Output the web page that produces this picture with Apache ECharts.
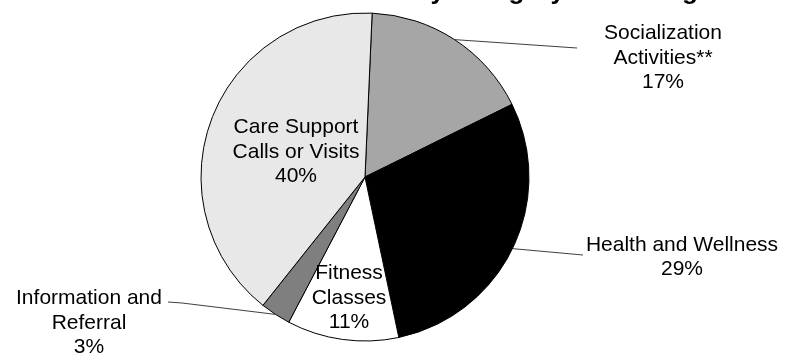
<!DOCTYPE html>
<html>
<head>
<meta charset="utf-8">
<script src="https://cdn.jsdelivr.net/npm/echarts@6/dist/echarts.min.js"></script>
<style>
  html, body { margin: 0; padding: 0; background: #fff; }
  #chart { width: 789px; height: 354px; }
</style>
</head>
<body>
<div id="chart"></div>
<script>
// ---- data ----
const titleText = 'Activity Category Percentage';
const categories = ['Socialization\nActivities**', 'Health and Wellness', 'Fitness\nClasses', 'Information and\nReferral', 'Care Support\nCalls or Visits'];
const values = [17, 29, 11, 3, 40];

// ---- styles ----
const sliceColors = ['#a6a6a6', '#000000', '#ffffff', '#7f7f7f', '#e8e8e8'];
const labelInside = [false, false, true, false, true];
// label centres and leader-line end points (text placement only)
const labelCenters = [[663, 58], [682, 257], [349, 298], [89, 323], [296, 152]];
const leaderEnds = [[[577, 48]], [[583, 255]], null, [[182, 303], [168, 302]], null];

const chart = echarts.init(document.getElementById('chart'), null, { renderer: 'canvas' });

const data = categories.map((name, i) => ({
  name: name,
  value: values[i],
  itemStyle: { color: sliceColors[i] },
  label: { position: labelInside[i] ? 'inside' : 'outside' },
  labelLine: { show: !labelInside[i] }
}));

chart.setOption({
  animation: false,
  backgroundColor: '#ffffff',
  title: {
    text: titleText,
    left: 351,
    top: -21,
    padding: 0,
    textStyle: { fontFamily: 'Liberation Sans, Arial, sans-serif', fontSize: 26, fontWeight: 'bold', color: '#000' }
  },
  series: [{
    type: 'pie',
    center: [365, 177],
    radius: 164,
    startAngle: 87.5,
    clockwise: true,
    avoidLabelOverlap: false,
    itemStyle: { borderColor: '#000', borderWidth: 1 },
    emphasis: { disabled: true },
    label: {
      show: true,
      formatter: '{b}\n{c}%',
      fontFamily: 'Liberation Sans, Arial, sans-serif',
      fontSize: 21,
      lineHeight: 24.5,
      color: '#000',
      align: 'center'
    },
    labelLine: {
      show: true,
      length: 20,
      length2: 20,
      lineStyle: { color: '#404040', width: 1 }
    },
    labelLayout: function (params) {
      const i = params.dataIndex;
      const c = labelCenters[i];
      const out = { x: c[0], y: c[1], align: 'center', verticalAlign: 'middle' };
      if (leaderEnds[i] && params.labelLinePoints) {
        out.labelLinePoints = [params.labelLinePoints[0]].concat(leaderEnds[i]);
      }
      return out;
    },
    data: data
  }]
});
</script>
</body>
</html>
